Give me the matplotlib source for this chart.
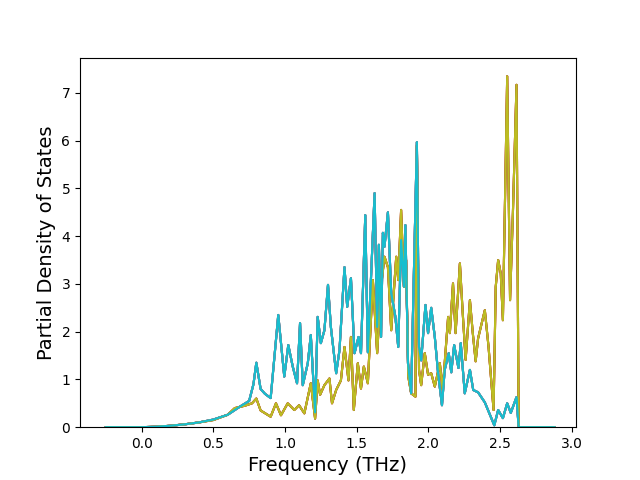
import matplotlib
matplotlib.use("Agg")
import matplotlib.pyplot as plt

freq_a = [-0.25, 0.0, 0.1, 0.2, 0.3, 0.4, 0.5, 0.6, 0.68, 0.75, 0.78, 0.80, 0.83, 0.86, 0.90,
          0.953, 0.995, 1.023, 1.054, 1.084, 1.105, 1.124, 1.159, 1.18, 1.21, 1.228, 1.25, 1.275,
          1.30, 1.32, 1.357, 1.38, 1.415, 1.434, 1.46, 1.485, 1.513, 1.53, 1.56, 1.578, 1.625,
          1.643, 1.655, 1.67, 1.683, 1.694, 1.718, 1.741, 1.77, 1.79, 1.81, 1.83, 1.84, 1.858,
          1.88, 1.92, 1.935, 1.95, 1.98, 1.998, 2.02, 2.045, 2.068, 2.095, 2.114, 2.142, 2.16,
          2.18, 2.21, 2.226, 2.254, 2.29, 2.313, 2.347, 2.394, 2.46, 2.487, 2.52, 2.55, 2.575,
          2.615, 2.63, 2.88]
dos_a = [0, 0, 0.01, 0.03, 0.06, 0.1, 0.16, 0.26, 0.42, 0.55, 0.9, 1.35, 0.8, 0.7, 0.61,
         2.35, 1.06, 1.72, 1.27, 0.92, 2.18, 0.88, 1.34, 1.93, 0.31, 2.31, 1.76, 2.03,
         2.98, 2.1, 1.13, 1.61, 3.35, 2.52, 3.12, 1.55, 1.89, 1.55, 4.44, 1.57, 4.9,
         2.1, 3.82, 1.89, 4.07, 3.78, 4.5, 2.81, 2.31, 1.68, 3.92, 2.94, 4.23, 1.34,
         0.71, 5.97, 1.68, 1.4, 2.56, 1.97, 2.5, 1.89, 1.13, 0.46, 1.2, 1.55, 1.15,
         1.72, 1.24, 1.76, 0.71, 1.2, 0.78, 0.73, 0.52, 0.04, 0.36, 0.19, 0.5, 0.3,
         0.63, 0, 0]

freq_b = [-0.25, 0.0, 0.1, 0.2, 0.3, 0.4, 0.5, 0.6, 0.65, 0.72, 0.77, 0.80, 0.83, 0.90,
          0.937, 0.972, 1.019, 1.065, 1.098, 1.135, 1.18, 1.21, 1.228, 1.245, 1.275, 1.31,
          1.328, 1.357, 1.39, 1.415, 1.443, 1.46, 1.48, 1.508, 1.53, 1.55, 1.578, 1.613,
          1.643, 1.67, 1.694, 1.718, 1.741, 1.776, 1.79, 1.81, 1.83, 1.845, 1.86, 1.88,
          1.91, 1.92, 1.935, 1.95, 1.975, 1.998, 2.02, 2.045, 2.08, 2.10, 2.138, 2.15,
          2.172, 2.19, 2.22, 2.24, 2.26, 2.29, 2.31, 2.33, 2.347, 2.394, 2.42, 2.455,
          2.47, 2.487, 2.505, 2.52, 2.55, 2.57, 2.59, 2.615, 2.63, 2.88]
dos_b = [0, 0, 0.01, 0.03, 0.06, 0.1, 0.15, 0.26, 0.4, 0.45, 0.5, 0.6, 0.35, 0.22,
         0.5, 0.25, 0.5, 0.36, 0.46, 0.29, 0.92, 0.18, 0.98, 0.68, 0.88, 1.02,
         0.5, 0.78, 0.98, 1.68, 0.98, 1.89, 0.36, 1.34, 0.81, 1.27, 0.92, 3.08,
         1.55, 2.94, 3.57, 3.35, 2.03, 3.57, 3.08, 4.55, 2.94, 3.5, 1.06, 0.71,
         0.64, 5.9, 1.2, 0.88, 1.55, 1.1, 1.13, 0.85, 1.34, 0.78, 2.31, 1.97,
         3.01, 1.97, 3.43, 2.38, 1.41, 2.66, 1.97, 1.38, 1.86, 2.45, 1.68, 0.36,
         2.94, 3.5, 3.22, 2.24, 7.35, 2.66, 4.5, 7.17, 0, 0]

groups = ["A", "B", "A", "B", "A", "B", "A", "A", "B", "A"]

fig, ax = plt.subplots(figsize=(6.4, 4.8), dpi=100)
for g in groups:
    if g == "A":
        ax.plot(freq_a, dos_a, lw=1.5)
    else:
        ax.plot(freq_b, dos_b, lw=1.5)
ax.set_xlim(-0.43, 3.03)
ax.set_ylim(0, 7.74)
ax.set_xlabel("Frequency (THz)", fontsize=14)
ax.set_ylabel("Partial Density of States", fontsize=14)
fig.savefig("out.png")
